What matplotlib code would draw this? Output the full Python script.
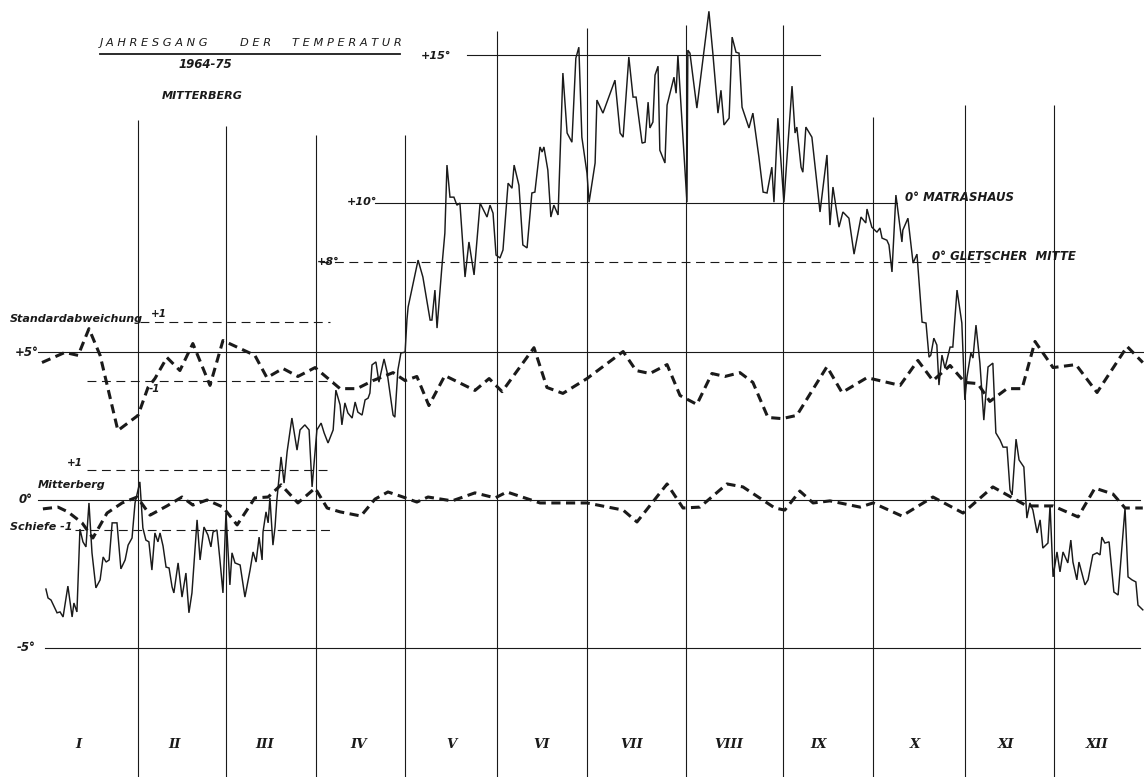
import matplotlib
matplotlib.use("Agg")
import matplotlib.pyplot as plt

# ---------------- data ----------------
# daily mean temperature Mitterberg 1964-75 (day of year, deg C)
temp_day = [0.3, 1.0, 2.0, 4.0, 5.0, 6.0, 7.6, 9.0, 9.6, 10.6, 11.6, 12.6, 13.6, 14.6, 15.6, 16.9,
            18.3, 19.3, 20.3, 21.3, 22.3, 23.9, 25.2, 26.6, 27.6, 28.9, 29.9, 31.5, 32.5, 33.5,
            34.5, 35.5, 36.5, 37.5, 38.2, 39.2, 40.2, 41.2, 42.2, 42.8, 44.2, 45.5, 46.8, 47.8,
            48.8, 50.5, 51.5, 52.8, 54.1, 55.1, 55.8, 57.1, 58.1, 59.1, 60.1, 61.4, 62.1, 63.1,
            64.8, 66.4, 68.1, 69.1, 70.1, 71.1, 72.1, 72.4, 73.4, 74.1, 74.7, 75.7, 76.4, 77.0,
            78.4, 79.4, 80.4, 82.0, 83.7, 84.7, 86.3, 87.7, 88.7, 90.3, 91.7, 92.7, 94.0, 95.7,
            96.6, 98.0, 98.6, 99.6, 100.6, 102.0, 103.0, 103.9, 105.3, 106.3, 107.3, 107.9,
            108.6, 109.9, 110.9, 112.6, 113.6, 115.6, 116.2, 117.2, 118.2, 119.6, 120.2, 120.6,
            123.9, 125.5, 127.9, 128.5, 129.5, 130.2, 131.8, 132.8, 133.5, 134.5, 135.8, 136.8,
            137.8, 139.5, 140.8, 142.5, 144.5, 146.8, 147.8, 148.8, 149.8, 151.1, 152.1, 153.8,
            155.1, 155.8, 157.4, 158.7, 160.1, 161.7, 162.7, 164.4, 165.1, 165.7, 167.0, 168.0,
            169.0, 170.4, 172.0, 173.4, 175.0, 176.3, 177.3, 178.3, 180.0, 180.7, 182.7, 183.3,
            185.3, 189.3, 191.0, 192.0, 193.9, 195.3, 196.3, 198.3, 199.3, 200.3, 200.9, 201.9,
            202.6, 203.6, 204.2, 205.9, 206.6, 208.9, 209.6, 210.2, 213.2, 213.5, 214.2, 216.5,
            220.5, 221.8, 223.5, 224.5, 225.5, 227.2, 228.2, 229.5, 230.5, 231.5, 233.8, 235.1,
            237.1, 238.5, 239.8, 241.4, 242.1, 243.4, 245.4, 248.1, 249.1, 249.7, 251.1, 251.7,
            252.7, 254.7, 257.4, 259.7, 260.7, 261.7, 263.7, 265.0, 267.0, 268.7, 271.0, 272.6,
            273.0, 274.6, 276.3, 277.3, 278.0, 279.6, 280.3, 281.3, 282.6, 284.6, 284.9, 286.6,
            288.3, 289.6, 291.3, 292.6, 293.6, 294.2, 295.2, 296.2, 296.9, 297.9, 298.9, 300.6,
            301.5, 302.9, 304.5, 305.5, 306.2, 307.5, 308.2, 309.2, 310.5, 311.8, 313.2, 314.8,
            315.8, 317.2, 318.2, 319.5, 320.5, 321.2, 322.5, 323.5, 325.1, 326.1, 327.1, 328.1,
            329.5, 330.5, 331.4, 333.1, 333.8, 334.8, 336.1, 337.1, 338.1, 339.7, 340.7, 341.4,
            342.7, 343.4, 345.4, 346.4, 348.0, 349.4, 350.4, 351.0, 352.0, 353.4, 355.0, 356.4,
            358.7, 359.7, 361.0, 362.3, 363.0, 364.6]
temp_val = [-3.0, -3.3, -3.37, -3.8, -3.77, -3.94, -2.9, -3.94, -3.47, -3.77, -0.98, -1.41, -1.58,
            -0.1, -1.78, -2.96, -2.69, -1.92, -2.09, -2.02, -0.77, -0.77, -2.32, -2.02, -1.52,
            -1.28, -0.1, 0.61, -0.94, -1.35, -1.41, -2.36, -1.11, -1.41, -1.11, -1.55, -2.26,
            -2.29, -2.93, -3.13, -2.12, -3.27, -2.46, -3.8, -3.13, -0.67, -2.02, -0.91, -1.18,
            -1.58, -1.08, -1.01, -2.02, -3.13, -0.44, -2.86, -1.78, -2.12, -2.19, -3.27, -2.36,
            -1.75, -2.09, -1.25, -2.02, -1.08, -0.4, -0.77, 0.07, -1.52, -0.91, 0.0, 1.45, 0.57,
            1.62, 2.76, 1.68, 2.36, 2.53, 2.36, 0.44, 2.36, 2.59, 2.26, 1.92, 2.36, 3.7, 3.2,
            2.53, 3.27, 2.93, 2.76, 3.3, 2.96, 2.86, 3.37, 3.43, 3.6, 4.55, 4.65, 3.97, 4.75,
            4.31, 2.86, 2.79, 4.38, 4.95, 4.98, 6.06, 6.5, 8.08, 7.51, 6.06, 6.06, 7.07, 5.79,
            7.84, 8.99, 11.28, 10.2, 10.2, 9.93, 10.0, 7.51, 8.69, 7.58, 10.0, 9.53, 9.93, 9.66,
            8.25, 8.15, 8.42, 10.67, 10.5, 11.28, 10.6, 8.59, 8.49, 10.34, 10.37, 11.89, 11.72,
            11.89, 11.11, 9.53, 9.93, 9.6, 14.38, 12.36, 12.05, 14.88, 15.25, 12.22, 11.01,
            10.03, 11.35, 13.47, 13.03, 14.14, 12.36, 12.22, 14.92, 13.57, 13.57, 12.02, 12.05,
            13.4, 12.53, 12.73, 14.31, 14.61, 11.78, 11.35, 13.3, 14.24, 13.7, 14.98, 10.03,
            15.15, 15.05, 13.2, 16.46, 15.05, 13.03, 13.8, 12.63, 12.86, 15.59, 15.08, 15.05,
            13.23, 12.53, 13.03, 11.55, 10.37, 10.34, 11.21, 10.03, 12.86, 10.03, 13.94, 12.36,
            12.56, 11.21, 11.04, 12.56, 12.22, 9.7, 11.62, 9.26, 10.54, 9.19, 9.7, 9.49, 8.28,
            9.53, 9.33, 9.8, 9.19, 9.02, 9.16, 8.82, 8.75, 8.59, 7.68, 10.27, 8.69, 9.09, 9.49,
            7.98, 8.28, 5.99, 5.96, 4.81, 4.88, 5.45, 5.22, 3.87, 4.88, 4.44, 5.15, 5.15, 7.07,
            5.96, 3.37, 4.14, 4.95, 4.78, 5.89, 4.61, 2.69, 4.48, 4.61, 2.26, 2.02, 1.78, 1.78,
            0.34, 0.17, 2.05, 1.35, 1.11, -0.61, -0.1, -0.34, -1.11, -0.67, -1.62, -1.45, -0.17,
            -2.59, -1.75, -2.42, -1.75, -2.12, -1.35, -2.09, -2.69, -2.09, -2.86, -2.69, -1.85,
            -1.78, -1.85, -1.25, -1.45, -1.41, -3.1, -3.2, -0.27, -2.59, -2.69, -2.76, -3.54,
            -3.7]

# standard deviation curve (deviation from its +5 deg base line)
sd_day = [-1.0, 6.6, 11.0, 14.6, 18.3, 24.2, 30.9, 34.2, 36.5, 40.5, 44.8, 49.1, 54.8, 59.1,
          69.7, 73.7, 79.0, 84.0, 89.7, 98.0, 103.6, 108.9, 115.6, 119.6, 123.5, 127.5, 132.8,
          142.8, 147.5, 151.8, 162.4, 166.7, 172.0, 180.0, 192.0, 196.3, 200.9, 206.6, 210.9,
          216.5, 221.5, 225.8, 230.8, 235.1, 240.1, 244.8, 249.7, 259.7, 264.7, 273.0, 284.0,
          289.9, 294.9, 300.6, 305.5, 309.8, 313.8, 319.5, 324.5, 328.8, 334.8, 342.4, 349.4,
          359.4, 364.6]
sd_dev = [-0.37, -0.03, -0.13, 0.77, -0.13, -2.66, -2.15, -1.21, -0.91, -0.2, -0.64, 0.27, -1.14,
          0.37, -0.13, -0.88, -0.57, -0.84, -0.54, -1.25, -1.25, -0.98, -0.71, -0.98, -0.84,
          -1.82, -0.81, -1.31, -0.91, -1.35, 0.13, -1.21, -1.41, -0.91, 0.0, -0.64, -0.74, -0.44,
          -1.48, -1.78, -0.74, -0.84, -0.71, -1.04, -2.22, -2.26, -2.15, -0.51, -1.38, -0.88,
          -1.14, -0.3, -0.98, -0.47, -1.04, -1.08, -1.68, -1.25, -1.25, 0.34, -0.54, -0.44, -1.38,
          0.17, -0.37]
sd_base = 5.0

# skewness curve (deviation from its 0 deg base line)
skew_day = [-0.7, 4.3, 7.6, 12.3, 15.9, 20.6, 25.6, 30.6, 34.9, 40.5, 45.5, 49.1, 53.8, 59.1,
            63.8, 69.7, 74.1, 78.4, 84.0, 89.7, 93.7, 98.0, 104.9, 109.6, 113.9, 118.9, 123.5,
            127.2, 135.2, 142.8, 149.5, 153.4, 164.4, 180.0, 192.0, 196.6, 206.6, 211.9, 217.5,
            226.5, 231.8, 242.4, 245.7, 250.7, 255.1, 260.7, 270.7, 275.0, 284.6, 294.9, 304.9,
            314.8, 326.1, 334.8, 343.1, 348.7, 354.7, 358.7, 364.6]
skew_dev = [-0.30, -0.24, -0.40, -0.77, -1.28, -0.44, -0.10, 0.10, -0.51, -0.20, 0.10, -0.17, 0.0,
            -0.24, -0.84, 0.07, 0.10, 0.51, -0.10, 0.40, -0.27, -0.40, -0.54, 0.03, 0.27, 0.10,
            -0.07, 0.10, -0.03, 0.24, 0.07, 0.27, -0.10, -0.10, -0.34, -0.74, 0.54, -0.27, -0.24,
            0.54, 0.44, -0.27, -0.34, 0.30, -0.10, -0.03, -0.24, -0.10, -0.54, 0.10, -0.44, 0.44,
            -0.20, -0.20, -0.57, 0.40, 0.20, -0.27, -0.27]
skew_base = 0.0

# month boundaries as drawn (day of year) and upper end of each vertical line (deg C)
month_bounds = [31, 60, 90, 119.5, 150, 180, 213, 245, 275, 305.5, 335]
month_tops = [12.8, 12.6, 12.3, 12.3, 15.8, 15.9, 16.0, 16.0, 12.9, 13.3, 13.3]
month_names = ["I", "II", "III", "IV", "V", "VI", "VII", "VIII", "IX", "X", "XI", "XII"]
month_label_day = [11, 43, 73, 104, 135, 165, 195, 227, 257, 289, 319, 349.5]

title_words = ["J A H R E S G A N G", "D E R", "T E M P E R A T U R"]
title_word_day = [18.3, 64.8, 82.0]

# ---------------- figure ----------------
W, H, DPI = 1144, 777, 100
fig = plt.figure(figsize=(W / DPI, H / DPI), dpi=DPI)
ax = fig.add_axes([0, 0, 1, 1])
ax.set_xlim(-14.95, 365.0)
ax.set_ylim(-9.33, 16.84)
ax.axis("off")

ink = "#1a1a1a"
thin = 0.8
tfont = dict(family="DejaVu Sans", style="italic", color=ink)

# month separators
for b, top in zip(month_bounds, month_tops):
    ax.plot([b, b], [-9.4, top], color=ink, lw=thin, solid_capstyle="butt")

# horizontal reference lines
ax.plot([140.2, 257.4], [15, 15], color=ink, lw=thin)
ax.plot([109.6, 283.0], [10, 10], color=ink, lw=thin)
ax.plot([91.3, 313.8], [8, 8], color=ink, lw=thin, ls=(0, (8, 5)))
ax.plot([-2.3, 365], [5, 5], color=ink, lw=thin)
ax.plot([-2.3, 363.7], [0, 0], color=ink, lw=thin)
ax.plot([0, 363.7], [-5, -5], color=ink, lw=thin)

# +/-1 guide lines for standard deviation and skewness
ax.plot([31.5, 94.7], [sd_base + 1, sd_base + 1], color=ink, lw=thin, ls=(0, (8, 5)))
ax.plot([14.0, 95.6], [sd_base - 1, sd_base - 1], color=ink, lw=thin, ls=(0, (8, 5)))
ax.plot([14.0, 94.7], [skew_base + 1, skew_base + 1], color=ink, lw=thin, ls=(0, (8, 5)))
ax.plot([10.0, 94.7], [skew_base - 1, skew_base - 1], color=ink, lw=thin, ls=(0, (8, 5)))

# curves
ax.plot(temp_day, temp_val, color=ink, lw=1.05, solid_joinstyle="miter")
ax.plot(sd_day, [sd_base + v for v in sd_dev], color=ink, lw=2.2, ls=(0, (3, 1.8)))
ax.plot(skew_day, [skew_base + v for v in skew_dev], color=ink, lw=2.2, ls=(0, (3, 1.8)))

# texts
for w, d in zip(title_words, title_word_day):
    ax.text(d, 15.38, w, fontsize=8.2, ha="left", va="center", weight="normal", **tfont)
ax.plot([18.3, 117.9], [15.02, 15.02], color=ink, lw=1.3)
ax.text(53.1, 14.68, "1964-75", fontsize=8.5, ha="center", va="center", weight="bold", **tfont)
ax.text(52.2, 13.62, "MITTERBERG", fontsize=8, ha="center", va="center", weight="bold", **tfont)

ax.text(129.9, 14.95, "+15°", fontsize=8, ha="center", va="center", weight="bold", **tfont)
ax.text(105.3, 10.02, "+10°", fontsize=8, ha="center", va="center", weight="bold", **tfont)
ax.text(94.0, 8.0, "+8°", fontsize=8, ha="center", va="center", weight="bold", **tfont)
ax.text(285.6, 10.2, "0° MATRASHAUS", fontsize=8.5, ha="left", va="center", weight="bold", **tfont)
ax.text(294.6, 8.2, "0° GLETSCHER  MITTE", fontsize=8.5, ha="left", va="center", weight="bold", **tfont)

ax.text(-11.6, 6.08, "Standardabweichung", fontsize=8, ha="left", va="center", weight="bold", **tfont)
ax.text(37.9, 6.25, "+1", fontsize=7.5, ha="center", va="center", weight="bold", **tfont)
ax.text(36.5, 3.75, "-1", fontsize=7.5, ha="center", va="center", weight="bold", **tfont)
ax.text(-6.0, 4.98, "+5°", fontsize=8.5, ha="center", va="center", weight="bold", **tfont)
ax.text(10.0, 1.25, "+1", fontsize=7.5, ha="center", va="center", weight="bold", **tfont)
ax.text(-2.3, 0.5, "Mitterberg", fontsize=8, ha="left", va="center", weight="bold", **tfont)
ax.text(-6.6, 0.0, "0°", fontsize=8.5, ha="center", va="center", weight="bold", **tfont)
ax.text(-11.6, -0.9, "Schiefe -1", fontsize=8, ha="left", va="center", weight="bold", **tfont)
ax.text(-6.3, -4.98, "-5°", fontsize=8.5, ha="center", va="center", weight="bold", **tfont)

for name, d in zip(month_names, month_label_day):
    ax.text(d, -8.25, name, fontsize=9.5, ha="center", va="center",
            family="DejaVu Serif", style="italic", weight="bold", color=ink)

fig.savefig("out.png", dpi=DPI, facecolor="white")
